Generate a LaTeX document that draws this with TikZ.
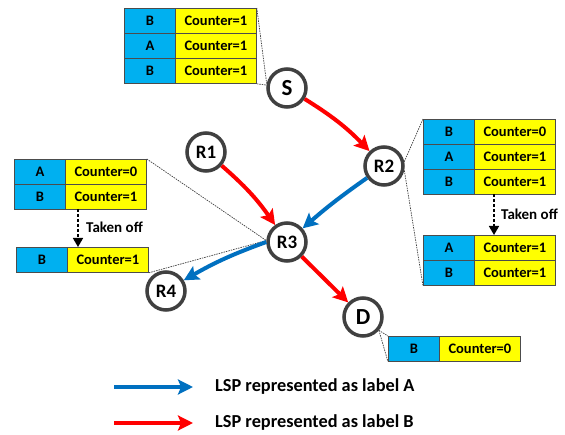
\documentclass[tikz,border=0pt]{standalone}
\usepackage{fontspec}
\setmainfont{Carlito}
\usetikzlibrary{arrows.meta}
\definecolor{cblue}{HTML}{00B0F0}
\definecolor{cyel}{HTML}{FFFF00}
\definecolor{lspA}{HTML}{0070C0}
\definecolor{lspB}{HTML}{FF0000}
\definecolor{ring}{HTML}{404040}
\begin{document}
\begin{tikzpicture}[x=1pt,y=-1pt,
  cellA/.style={draw=black!70, line width=0.8pt, fill=cblue, minimum width=51pt, minimum height=25pt, inner sep=0pt, anchor=north west, font=\bfseries\fontsize{14.5}{14.5}\selectfont},
  cellB/.style={draw=black!70, line width=0.8pt, fill=cyel, minimum width=81pt, minimum height=25pt, inner sep=0pt, anchor=north west, font=\bfseries\fontsize{14.5}{14.5}\selectfont},
  router/.style={circle, draw=ring, line width=3.5pt, fill=white, minimum size=38pt, inner sep=0pt, font=\bfseries\fontsize{19}{19}\selectfont},
  endnode/.style={router, font=\bfseries\fontsize{23}{23}\selectfont},
  lspa/.style={draw=lspA, line width=4pt, -{Stealth[length=15pt,width=15pt,inset=3pt]}},
  lspb/.style={draw=lspB, line width=4pt, -{Stealth[length=15pt,width=15pt,inset=3pt]}},
  callout/.style={draw=black!75, line width=0.7pt, dash pattern=on 1.5pt off 1pt},
  takenoff/.style={draw=black, line width=1.6pt, dash pattern=on 3pt off 2pt, -{Triangle[length=9pt,width=10pt]}},
  tlabel/.style={anchor=west, inner sep=0pt, font=\bfseries\fontsize{15}{15}\selectfont},
  legend/.style={anchor=west, inner sep=0pt, font=\bfseries\fontsize{18.3}{18.3}\selectfont}]
\useasboundingbox (0,0) rectangle (565,435);
\fill[white] (0,0) rectangle (565,435);

% routers
\node[endnode] (S) at (287,88) {S};
\node[router] (R1) at (206,152) {R1};
\node[router] (R2) at (384,166) {R2};
\node[router] (R3) at (287,242) {R3};
\node[router] (R4) at (166,291) {R4};
\node[endnode] (D) at (363,317) {D};

% S table
\node[cellA] (s1a) at (124,8) {B};
\node[cellB] (s1b) at (175,8) {Counter=1};
\node[cellA] (s2a) at (124,33) {A};
\node[cellB] (s2b) at (175,33) {Counter=1};
\node[cellA] (s3a) at (124,58) {B};
\node[cellB] (s3b) at (175,58) {Counter=1};

% R3 tables
\node[cellA] (l1a) at (14,159) {A};
\node[cellB] (l1b) at (65,159) {Counter=0};
\node[cellA] (l2a) at (14,184) {B};
\node[cellB] (l2b) at (65,184) {Counter=1};
\node[cellA] (l3a) at (16,247) {B};
\node[cellB] (l3b) at (67,247) {Counter=1};

% R2 tables
\node[cellA] (r1a) at (423,119) {B};
\node[cellB] (r1b) at (474,119) {Counter=0};
\node[cellA] (r2a) at (423,144) {A};
\node[cellB] (r2b) at (474,144) {Counter=1};
\node[cellA] (r3a) at (423,169) {B};
\node[cellB] (r3b) at (474,169) {Counter=1};
\node[cellA] (r4a) at (423,235) {A};
\node[cellB] (r4b) at (474,235) {Counter=1};
\node[cellA] (r5a) at (423,260) {B};
\node[cellB] (r5b) at (474,260) {Counter=1};

% D table
\node[cellA] (d1a) at (388,336) {B};
\node[cellB] (d1b) at (439,336) {Counter=0};

% callout lines
\draw[callout] (s1b.north east) -- (S.168);
\draw[callout] (s3b.south east) -- (S.172);
\draw[callout] (l1b.north east) -- (R3.176);
\draw[callout] (l3b.south east) -- (R3.176);
\draw[callout] (R2.12) -- (r1a.north west);
\draw[callout] (R2.-12) -- (r5a.south west);
\draw[callout] (D.-40) -- (d1a.north west);
\draw[callout] (D.-40) -- (d1a.south west);

% taken off arrows
\coordinate (tl1) at (78,209);
\coordinate (tl2) at (78,247);
\draw[takenoff] (tl1) -- (tl2);
\node[tlabel] (tlt) at (86,227) {Taken off};
\coordinate (tr1) at (494,194);
\coordinate (tr2) at (494,235);
\draw[takenoff] (tr1) -- (tr2);
\node[tlabel] (trt) at (501,214) {Taken off};

% LSP arrows
\draw[lspb] (S) to[bend left=7] (R2);
\draw[lspb] (R1) to[bend left=7] (R3);
\draw[lspa] (R2) to[bend right=3] (R3);
\draw[lspa] (R3.180) to[bend right=5] (R4);
\draw[lspb] (R3) -- (D);

% legend
\coordinate (la1) at (114,387);
\coordinate (la2) at (193,387);
\coordinate (lb1) at (114,423);
\coordinate (lb2) at (193,423);
\draw[lspa] (la1) -- (la2);
\draw[lspb] (lb1) -- (lb2);
\node[legend] (lta) at (215,387) {LSP represented as label A};
\node[legend] (ltb) at (215,423) {LSP represented as label B};
\end{tikzpicture}
\end{document}
